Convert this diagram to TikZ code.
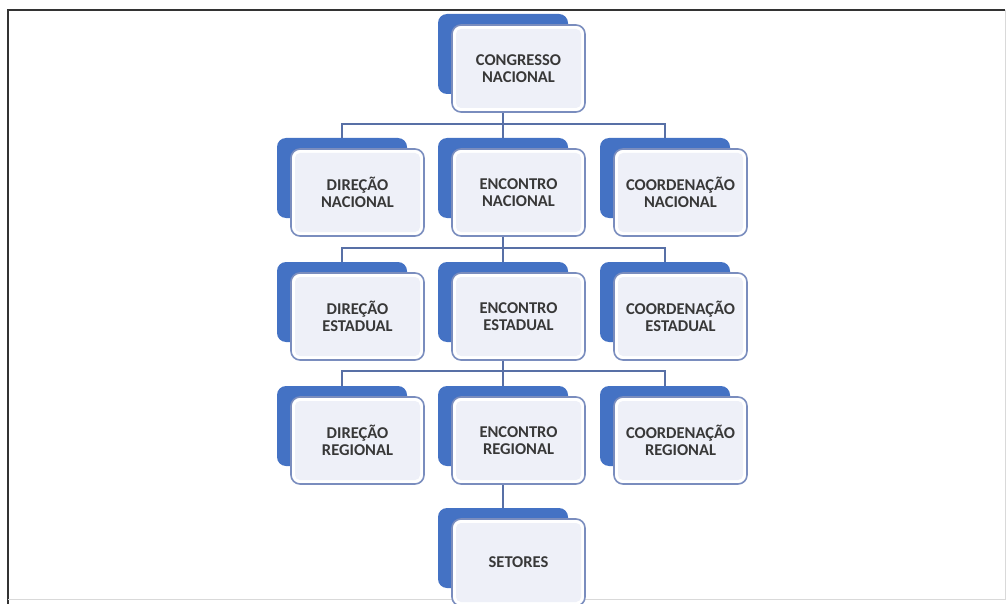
\documentclass[tikz,border=0pt]{standalone}
\usepackage{fontspec}
\setmainfont{Carlito}

\definecolor{backblue}{HTML}{4472C4}
\definecolor{edgeblue}{HTML}{7A8DBE}
\definecolor{paleblue}{HTML}{EEF0F8}
\definecolor{connblue}{HTML}{5870A6}

% back box centre at (#2,#3), front box drawn over it
\newcommand{\orgunit}[4]{%
	\node[backbox] (#1B) at (#2,#3) {};
	\node[frontbox] (#1) at (#2+15.5,#3+14.5) {#4};
}

\begin{document}
\begin{tikzpicture}[x=1pt,y=-1pt]
				\tikzset{backbox/.style={
						fill=backblue,
						rounded corners=9pt,
						minimum width=130pt,
						minimum height=80pt,
						inner sep=0pt},
					frontbox/.style={
						draw=edgeblue,
						line width=1.6pt,
						fill=white,
						rounded corners=9pt,
						minimum width=133pt,
						minimum height=87pt,
						inner sep=0pt,
						align=center,
						text=black!78,
						font=\fontsize{16.5}{17}\selectfont\bfseries,
						path picture={
							\fill[paleblue, rounded corners=5pt]
							([shift={(4pt,4pt)}]path picture bounding box.south west) rectangle
							([shift={(-4pt,-4pt)}]path picture bounding box.north east);
					}},
					conn/.style={draw=connblue, line width=1.5pt}
				}
				
				\useasboundingbox (0,0) rectangle (1006,604);
				
				%% FRAME
				\draw[line width=1.5pt, black!80] (8,604) -- (8,10) -- (1005,10);
				\draw[line width=0.8pt, black!15] (1005,10) -- (1005,599) -- (8,599);
				
				%% UNITS
				\orgunit{Cong}{503}{54}{CONGRESSO\\NACIONAL}
				\orgunit{DirN}{342}{178}{DIREÇÃO\\NACIONAL}
				\orgunit{EncN}{503}{178}{ENCONTRO\\NACIONAL}
				\orgunit{CoordN}{665}{178}{COORDENAÇÃO\\NACIONAL}
				\orgunit{DirE}{342}{302}{DIREÇÃO\\ESTADUAL}
				\orgunit{EncE}{503}{302}{ENCONTRO\\ESTADUAL}
				\orgunit{CoordE}{665}{302}{COORDENAÇÃO\\ESTADUAL}
				\orgunit{DirR}{342}{426}{DIREÇÃO\\REGIONAL}
				\orgunit{EncR}{503}{426}{ENCONTRO\\REGIONAL}
				\orgunit{CoordR}{665}{426}{COORDENAÇÃO\\REGIONAL}
				\orgunit{Set}{503}{548}{SETORES}
				
				%% LINKS
				\coordinate (J1) at (503,124);
				\coordinate (J2) at (503,248);
				\coordinate (J3) at (503,371);
				
				\draw[conn] (Cong.south -| CongB.center) -- (J1);
				\draw[conn] (DirNB.north) |- (J1) -| (CoordNB.north);
				\draw[conn] (J1) -- (EncNB.north);
				
				\draw[conn] (EncN.south -| EncNB.center) -- (J2);
				\draw[conn] (DirEB.north) |- (J2) -| (CoordEB.north);
				\draw[conn] (J2) -- (EncEB.north);
				
				\draw[conn] (EncE.south -| EncEB.center) -- (J3);
				\draw[conn] (DirRB.north) |- (J3) -| (CoordRB.north);
				\draw[conn] (J3) -- (EncRB.north);
				
				\draw[conn] (EncR.south -| EncRB.center) -- (SetB.north);
				
			\end{tikzpicture}
\end{document}
